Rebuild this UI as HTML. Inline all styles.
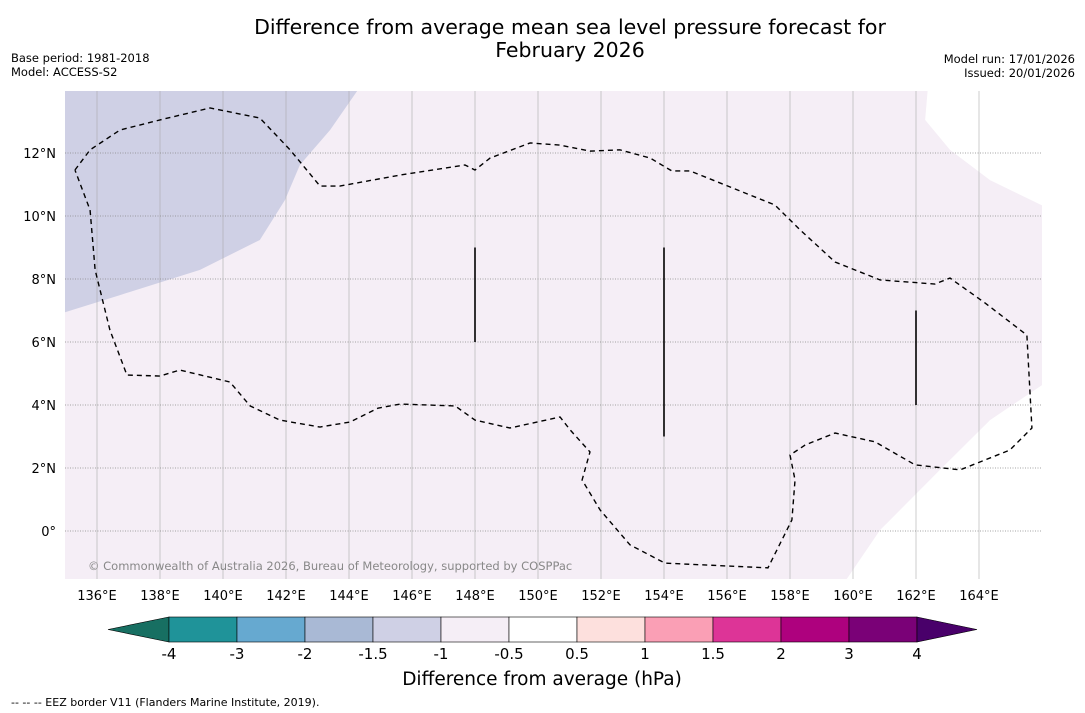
<!DOCTYPE html>
<html><head><meta charset="utf-8"><style>
body{margin:0;background:#fff;font-family:"DejaVu Sans","Liberation Sans",sans-serif;}
svg{display:block}
</style></head><body>
<svg id="c" width="1085" height="713" viewBox="0 0 1085 713" xmlns="http://www.w3.org/2000/svg">
<text x="570" y="34" text-anchor="middle" font-size="20.5">Difference from average mean sea level pressure forecast for</text>
<text x="570" y="57" text-anchor="middle" font-size="20.5">February 2026</text>
<text x="11" y="62" font-size="11.5">Base period: 1981-2018</text>
<text x="11" y="76" font-size="11.5">Model: ACCESS-S2</text>
<text x="1075" y="63" font-size="11.5" text-anchor="end">Model run: 17/01/2026</text>
<text x="1075" y="77" font-size="11.5" text-anchor="end">Issued: 20/01/2026</text>
<defs><clipPath id="mc"><rect x="65" y="91" width="977" height="488"/></clipPath></defs>
<g id="map" clip-path="url(#mc)"></g>
<g id="ax"></g>
<g id="cb"></g>
<text x="542" y="685" text-anchor="middle" font-size="18.5">Difference from average (hPa)</text>
<text x="11" y="706" font-size="11">--  --  -- EEZ border V11 (Flanders Marine Institute, 2019).</text>
</svg>
<script>
const lonTicks=[136,138,140,142,144,146,148,150,152,154,156,158,160,162,164];
const latTicks=[0,2,4,6,8,10,12];
const blueRegion=[[134.9,14.1],[144.35,14.1],[143.4,12.73],[142.44,11.62],[141.97,10.51],[141.17,9.24],[139.27,8.29],[136.73,7.49],[134.9,6.92]];
const whiteTR=[[162.38,14.1],[162.29,13.05],[163.08,12.1],[164.35,11.14],[166.1,10.29],[166.1,14.1]];
const whiteBR=[[166.1,4.7],[164.35,3.52],[162.76,1.94],[160.86,0.03],[159.75,-1.6],[166.1,-1.6]];
const eezLon=[135.3,135.78,136.73,138.0,139.59,141.17,142.13,143.08,143.71,145.62,147.68,148.0,148.48,149.75,150.7,151.65,152.6,153.56,154.25,154.83,156.1,157.52,158.32,159.43,160.86,162.6,163.08,164.19,165.52,165.68,164.98,163.4,161.97,160.7,159.43,158.48,158.0,158.16,158.06,157.3,154.03,152.92,151.97,151.4,151.65,151.02,150.7,149.11,148.0,147.37,145.62,144.92,144.03,143.08,141.81,140.86,140.22,138.63,138.0,136.95,136.41,135.94,135.78,135.3];
const eezLat=[11.46,12.1,12.73,13.05,13.43,13.11,12.1,10.95,10.95,11.3,11.62,11.46,11.84,12.32,12.25,12.06,12.1,11.84,11.43,11.43,10.92,10.35,9.56,8.54,7.97,7.84,8.03,7.24,6.22,3.27,2.57,1.94,2.1,2.83,3.11,2.73,2.41,1.62,0.35,-1.17,-1.02,-0.44,0.67,1.62,2.51,3.21,3.62,3.27,3.52,3.97,4.03,3.9,3.46,3.3,3.52,3.97,4.73,5.11,4.92,4.95,6.38,8.29,10.19,11.46];
const segLon=[148,154,162];const segLat0=[6,3,4];const segLat1=[9,9,7];
const cbLabels=["-4","-3","-2","-1.5","-1","-0.5","0.5","1","1.5","2","3","4"];
const cbColors=["#1f9399","#66a9d0","#a9b9d5","#cfd0e5","#f5eef6","#ffffff","#fde0dd","#fa9fb5","#dd3497","#ae017e","#7a0177"];
const X=lon=>97+(lon-136)*31.5, Y=lat=>531-lat*31.5;
const NS="http://www.w3.org/2000/svg";
function mk(t,a,p){const e=document.createElementNS(NS,t);for(const k in a)e.setAttribute(k,a[k]);p.appendChild(e);return e;}
const map=document.getElementById('map'),ax=document.getElementById('ax'),cb=document.getElementById('cb');
let r=mk('rect',{x:65,y:91,width:977,height:488,fill:'#f5eef6'},map);


const pts=a=>a.map(p=>X(p[0])+','+Y(p[1])).join(' ');
let p=mk('polygon',{points:pts(blueRegion),fill:'#cfd0e5'},map);


p=mk('polygon',{points:pts(whiteTR),fill:'#fff'},map);


p=mk('polygon',{points:pts(whiteBR),fill:'#fff'},map);


lonTicks.forEach(l=>{const g=mk('line',{x1:X(l),x2:X(l),y1:91,y2:579,stroke:'#aaa','stroke-width':0.6},map);


const t=mk('text',{x:X(l),y:600,'text-anchor':'middle','font-size':13},ax);t.textContent=l+'°E';

});
latTicks.forEach(l=>{const g=mk('line',{x1:65,x2:1042,y1:Y(l),y2:Y(l),stroke:'#888','stroke-width':0.8,'stroke-dasharray':'1,1.5'},map);


const t=mk('text',{x:56,y:Y(l)+5,'text-anchor':'end','font-size':13},ax);t.textContent=l===0?'0°':l+'°N';

});
let e=mk('polyline',{points:eezLon.map((l,i)=>X(l)+','+Y(eezLat[i])).join(' '),fill:'none',stroke:'#000','stroke-width':1.4,'stroke-dasharray':'5,4'},map);


segLon.forEach((l,i)=>{const s=mk('line',{x1:X(l),x2:X(l),y1:Y(segLat1[i]),y2:Y(segLat0[i]),stroke:'#000','stroke-width':1.6},map);

});
let cr=mk('text',{x:88,y:570,'font-size':11.5,fill:'#888'},map);cr.textContent='© Commonwealth of Australia 2026, Bureau of Meteorology, supported by COSPPac';


const c0=169,cw=68,cy=617,ch=25;
let a=mk('polygon',{points:`108,${cy+ch/2} ${c0},${cy} ${c0},${cy+ch}`,fill:'#176f62',stroke:'#000','stroke-width':0.6},cb);


cbColors.forEach((c,i)=>{const b=mk('rect',{x:c0+i*cw,y:cy,width:cw,height:ch,fill:c,stroke:'#000','stroke-width':0.6},cb);

});
a=mk('polygon',{points:`${c0+11*cw},${cy} 977,${cy+ch/2} ${c0+11*cw},${cy+ch}`,fill:'#49006a',stroke:'#000','stroke-width':0.6},cb);


cbLabels.forEach((s,i)=>{const t=mk('text',{x:c0+i*cw,y:659,'text-anchor':'middle','font-size':15},cb);t.textContent=s;

});
const fr=mk('rect',{x:65,y:91,width:977,height:488,fill:'none',stroke:'none'},ax);


</script>
</body></html>
